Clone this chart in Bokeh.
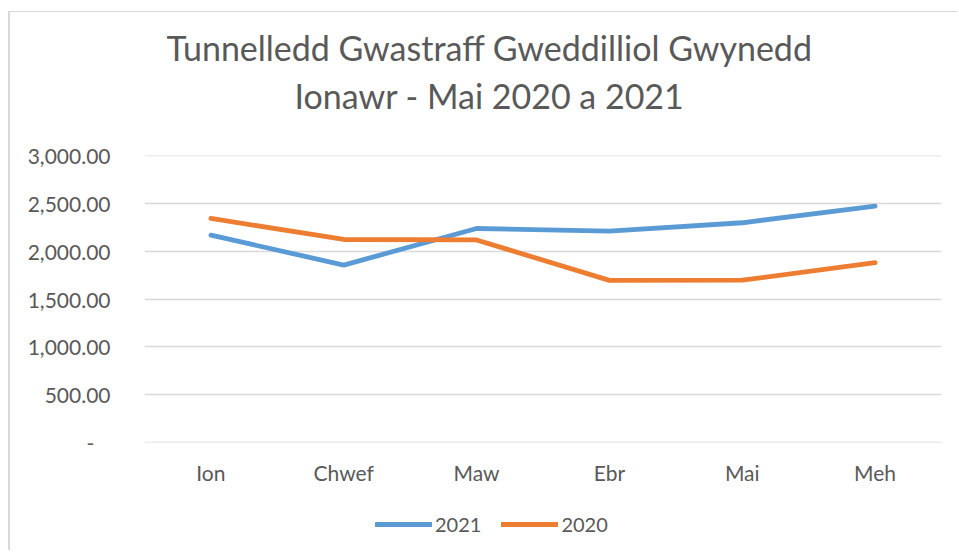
from bokeh.plotting import figure
from bokeh.layouts import column
from bokeh.models import (Label, Legend, LegendItem, FixedTicker, NumeralTickFormatter, Range1d)
from bokeh.embed import file_html
from bokeh.resources import INLINE

months = ["Ion", "Chwef", "Maw", "Ebr", "Mai", "Meh"]
y2021 = [2168, 1855, 2238, 2210, 2298, 2472]
y2020 = [2343, 2123, 2118, 1695, 1697, 1880]
y_ticks = [0, 500, 1000, 1500, 2000, 2500, 3000]
series_names = ["2021", "2020"]
title_lines = ["Tunnelledd Gwastraff Gweddilliol Gwynedd", "Ionawr - Mai 2020 a 2021"]

FONT = "Lato"
TXT = "#595959"
BLUE = "#5B9BD5"
ORANGE = "#ED7D31"
W = 947


def blank(h, xr, yr):
    f = figure(width=W, height=h, output_backend="svg", toolbar_location=None,
               x_range=xr, y_range=yr,
               x_axis_location=None, y_axis_location=None, min_border=0)
    f.grid.grid_line_color = None
    f.outline_line_color = None
    f.background_fill_color = "white"
    f.border_fill_color = "white"
    return f


# --- title (labels are placed relative to the aligned plot frame)
tf = blank(128, Range1d(0, 1), Range1d(0, 1))
for i, t in enumerate(title_lines):
    tf.add_layout(Label(x=345, y=93 - 48 * i, x_units="screen", y_units="screen", text=t,
                        text_align="center", text_baseline="middle", text_font=FONT,
                        text_font_size="34px", text_color=TXT))

# --- main chart
p = figure(x_range=months, y_range=Range1d(-2, 3002), width=W, height=360,
           output_backend="svg", toolbar_location=None,
           min_border_left=134, min_border_right=16, min_border_top=15, min_border_bottom=58)
p.outline_line_color = None
p.background_fill_color = "white"
p.border_fill_color = "white"
p.xgrid.grid_line_color = None
p.ygrid.grid_line_color = "#d9d9d9"
p.ygrid.grid_line_width = 1.3

p.yaxis.ticker = FixedTicker(ticks=y_ticks)
p.yaxis.formatter = NumeralTickFormatter(format="0,0.00")
p.yaxis.major_label_overrides = {0: "-\u00a0\u00a0\u00a0"}
for ax in (p.xaxis, p.yaxis):
    ax.axis_line_color = None
    ax.major_tick_line_color = None
    ax.minor_tick_line_color = None
    ax.major_label_text_font = FONT
    ax.major_label_text_font_size = "21px"
    ax.major_label_text_color = TXT
p.yaxis.major_label_standoff = 28
p.xaxis.major_label_standoff = 11

p.line(months, y2021, line_color=BLUE, line_width=4.8, line_cap="round", line_join="round")
p.line(months, y2020, line_color=ORANGE, line_width=4.8, line_cap="round", line_join="round")

# --- legend (proxy renderers sit outside this strip's visible range)
lf = blank(50, months, Range1d(-2, -1))
l1 = lf.line(months, y2021, line_color=BLUE, line_width=4.8, line_cap="round")
l2 = lf.line(months, y2020, line_color=ORANGE, line_width=4.8, line_cap="round")
legend = Legend(items=[LegendItem(label=series_names[0], renderers=[l1]),
                       LegendItem(label=series_names[1], renderers=[l2])],
                orientation="horizontal", location=(231, 14), border_line_color=None,
                background_fill_alpha=0, glyph_width=57, glyph_height=20, label_standoff=3,
                spacing=20, label_text_font=FONT, label_text_font_size="20px",
                label_text_color=TXT, margin=0, padding=0)
lf.add_layout(legend)

layout = column(tf, p, lf, spacing=0)
layout.styles = {"margin-left": "8px", "margin-top": "11px",
                 "border-left": "2px solid #d9d9d9", "border-top": "1px solid #d9d9d9"}
open("out.html", "w").write(file_html(layout, INLINE))
